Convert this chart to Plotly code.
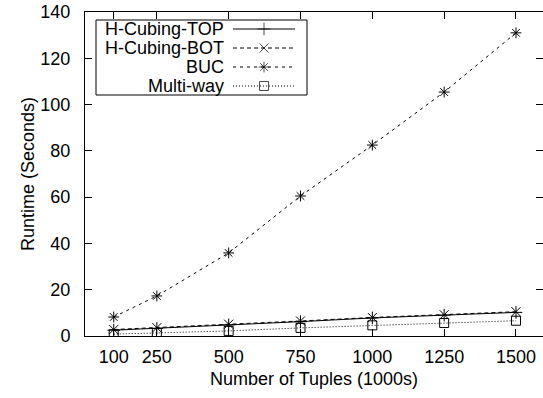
import plotly.graph_objects as go

# Runtime (seconds) versus number of tuples (thousands)
tuples = [100, 250, 500, 750, 1000, 1250, 1500]
h_cubing_top = [2.5, 3.3, 4.8, 6.2, 7.8, 9.0, 10.2]
h_cubing_bot = [2.8, 3.6, 5.1, 6.5, 8.0, 9.2, 10.5]
buc = [8.2, 17.3, 35.9, 60.5, 82.5, 105.4, 131.0]
multi_way = [0.8, 1.3, 2.2, 3.5, 4.6, 5.6, 6.6]

x_ticks = [100, 250, 500, 750, 1000, 1250, 1500]
y_ticks = [0, 20, 40, 60, 80, 100, 120, 140]

series = [
    ("H-Cubing-TOP", h_cubing_top, "solid", "cross-thin-open"),
    ("H-Cubing-BOT", h_cubing_bot, "4px,3px", "x-thin-open"),
    ("BUC", buc, "3px,4px", "asterisk-open"),
    ("Multi-way", multi_way, "1px,2px", "square-open"),
]

FONT = "Liberation Sans, Arial, sans-serif"
W, H = 543, 398
ML, MR, MT, MB = 85, 0, 12, 62
PW, PH = W - ML - MR, H - MT - MB

fig = go.Figure()

for name, vals, dash, sym in series:
    fig.add_trace(go.Scatter(
        x=tuples, y=vals, name=name, mode="lines+markers",
        line=dict(color="black", width=1, dash=dash),
        marker=dict(symbol=sym, size=9, color="black",
                    line=dict(color="black", width=1)),
        showlegend=False,
    ))

# Key box in the upper left, drawn in pixel units of the plot area
key_left, key_right, key_top, key_bottom = 11, 222, 8, 83
key_text_x = 141
key_sample = (148, 210)
key_rows = [17, 36, 55, 74]

for (name, vals, dash, sym), ry in zip(series, key_rows):
    x0, x1 = key_sample
    fig.add_trace(go.Scatter(
        x=[x0, (x0 + x1) / 2, x1], y=[ry, ry, ry], mode="lines+markers",
        line=dict(color="black", width=1, dash=dash),
        marker=dict(symbol=sym, size=[0, 9, 0], color="black",
                    line=dict(color="black", width=1)),
        xaxis="x2", yaxis="y3", showlegend=False, hoverinfo="skip",
    ))
    fig.add_annotation(
        x=key_text_x, y=ry, xref="x2", yref="y3", text=name,
        showarrow=False, xanchor="right", yanchor="middle",
        font=dict(family=FONT, size=18, color="black"),
    )

fig.add_shape(type="rect", xref="x2", yref="y3",
              x0=key_left, x1=key_right, y0=key_top, y1=key_bottom,
              line=dict(color="black", width=1), fillcolor="rgba(0,0,0,0)")

axis_font = dict(family=FONT, size=18, color="black")

fig.update_layout(
    width=W, height=H,
    margin=dict(l=ML, r=MR, t=MT, b=MB),
    paper_bgcolor="white", plot_bgcolor="white",
    font=axis_font,
    xaxis=dict(
        range=[0, 1594], tickvals=x_ticks, ticktext=[str(v) for v in x_ticks],
        ticks="inside", ticklen=7, tickcolor="black", tickwidth=1,
        showline=True, linecolor="black", linewidth=1, mirror="ticks",
        showgrid=False, zeroline=False, ticklabelstandoff=4,
        title=dict(text="Number of Tuples (1000s)", font=axis_font, standoff=6),
    ),
    yaxis=dict(
        range=[0, 140], tickvals=y_ticks,
        ticks="inside", ticklen=7, tickcolor="black", tickwidth=1,
        showline=True, linecolor="black", linewidth=1, mirror=False,
        showgrid=False, zeroline=False, ticklabelstandoff=10,
        title=dict(text="Runtime (Seconds)", font=axis_font, standoff=1),
    ),
    yaxis2=dict(
        range=[0, 140], tickvals=y_ticks, overlaying="y", side="right",
        ticks="inside", ticklen=7, tickcolor="black", tickwidth=1,
        showline=False, showticklabels=False, showgrid=False, zeroline=False,
    ),
    xaxis2=dict(range=[0, PW], overlaying="x", visible=False, fixedrange=True),
    yaxis3=dict(range=[PH, 0], overlaying="y", visible=False, fixedrange=True),
)

# invisible trace so the right-hand tick axis is rendered
fig.add_trace(go.Scatter(x=[None], y=[None], yaxis="y2", showlegend=False,
                         hoverinfo="skip"))

fig.write_html("out.html")
